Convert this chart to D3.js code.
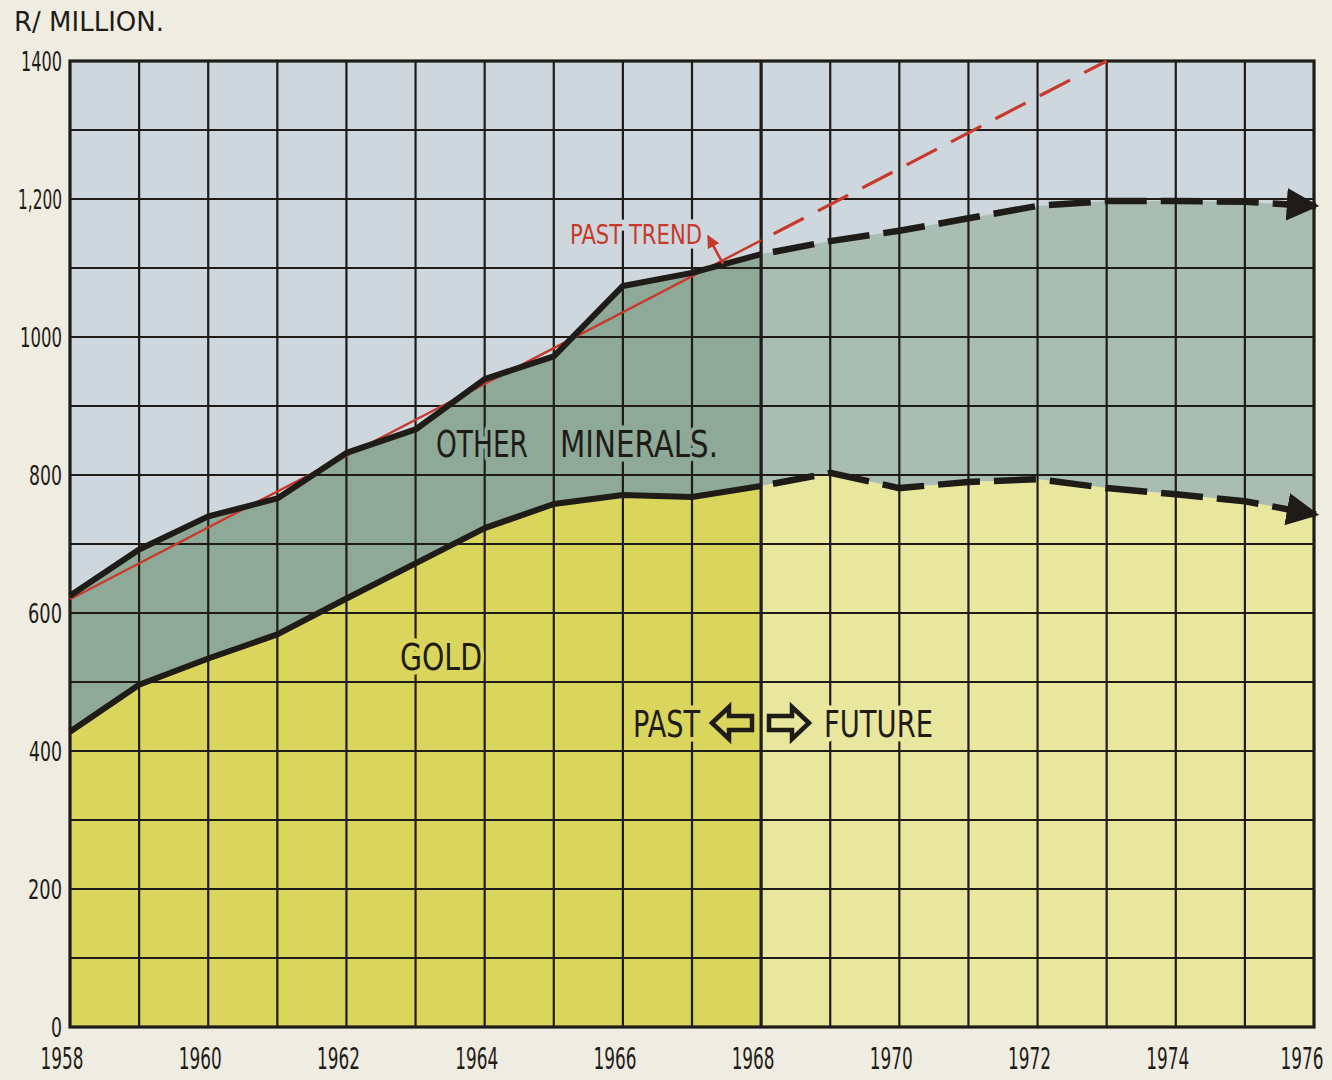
<!DOCTYPE html>
<html>
<head>
<meta charset="utf-8">
<script src="https://cdn.jsdelivr.net/npm/d3@7"></script>
<style>
  html, body { margin: 0; padding: 0; background: #efece2; }
  svg { display: block; }
  text { font-family: "DejaVu Sans", "Open Sans", sans-serif; }
</style>
</head>
<body>
<svg id="chart" width="1332" height="1080"></svg>
<script>
// ---- data (R million) ----
const pastYears   = [1958, 1959, 1960, 1961, 1962, 1963, 1964, 1965, 1966, 1967, 1968];
const pastTotal   = [625, 692, 740, 766, 832, 866, 939, 972, 1074, 1093, 1120];
const pastGold    = [428, 496, 534, 569, 621, 672, 723, 758, 771, 768, 784];
const futureYears = [1968, 1969, 1970, 1971, 1972, 1973, 1974, 1975, 1976];
const futureTotal = [1120, 1139, 1154, 1172, 1190, 1197, 1197, 1196, 1190];
const futureGold  = [784, 803, 781, 790, 794, 781, 772, 762, 743];
const trendYears  = [1958, 1968, 1973];
const trendValues = [620, 1140, 1400];
const yTicks      = [0, 200, 400, 600, 800, 1000, 1200, 1400];
const yTickLabels = ["0", "200", "400", "600", "800", "1000", "1,200", "1400"];
const xTickYears  = [1958, 1960, 1962, 1964, 1966, 1968, 1970, 1972, 1974, 1976];

// ---- layout ----
const svg = d3.select("#chart");
const L = 70, R = 1314, T = 61, B = 1027;
const x = d3.scaleLinear().domain([1958, 1976]).range([L, R]);
const y = d3.scaleLinear().domain([0, 1400]).range([B, T]);

const col = {
  sky: "#ced7dd",
  otherPast: "#8fa999",
  otherFuture: "#a9bdb5",
  goldPast: "#d9d55d",
  goldFuture: "#e9e69e",
  ink: "#1f1c18",
  red: "#c63a2c"
};

// background plot
svg.append("rect").attr("x", L).attr("y", T).attr("width", R - L).attr("height", B - T).attr("fill", col.sky);

const areaOther = d3.area().x(d => x(d[0])).y0(d => y(d[2])).y1(d => y(d[1]));
const areaGold = d3.area().x(d => x(d[0])).y0(y(0)).y1(d => y(d[2]));
const past = pastYears.map((yr, i) => [yr, pastTotal[i], pastGold[i]]);
const fut = futureYears.map((yr, i) => [yr, futureTotal[i], futureGold[i]]);

svg.append("path").datum(past).attr("d", areaOther).attr("fill", col.otherPast);
svg.append("path").datum(fut).attr("d", areaOther).attr("fill", col.otherFuture);
svg.append("path").datum(past).attr("d", areaGold).attr("fill", col.goldPast);
svg.append("path").datum(fut).attr("d", areaGold).attr("fill", col.goldFuture);

// grid
const grid = svg.append("g").attr("stroke", col.ink).attr("stroke-width", 2.2);
grid.selectAll("line.v").data(d3.range(1959, 1976)).join("line")
  .attr("x1", d => x(d)).attr("x2", d => x(d)).attr("y1", T).attr("y2", B)
  .attr("stroke-width", d => d === 1968 ? 3.2 : 2.2);
grid.selectAll("line.h").data(d3.range(100, 1400, 100)).join("line")
  .attr("y1", d => y(d)).attr("y2", d => y(d)).attr("x1", L).attr("x2", R);
svg.append("rect").attr("x", L).attr("y", T).attr("width", R - L).attr("height", B - T)
  .attr("fill", "none").attr("stroke", col.ink).attr("stroke-width", 3.2);

// past trend (red)
const line = d3.line().x(d => x(d[0])).y(d => y(d[1]));
const trend = trendYears.map((yr, i) => [yr, trendValues[i]]);
svg.append("path").datum(trend.slice(0, 2)).attr("d", line)
  .attr("fill", "none").attr("stroke", col.red).attr("stroke-width", 2.4);
svg.append("path").datum(trend.slice(1)).attr("d", line)
  .attr("fill", "none").attr("stroke", col.red).attr("stroke-width", 3.2)
  .attr("stroke-dasharray", "34,16").attr("stroke-dashoffset", -14);

// arrow heads
const defs = svg.append("defs");
defs.append("marker").attr("id", "arrowBlack").attr("viewBox", "0 0 10 10")
  .attr("refX", 9).attr("refY", 5).attr("markerWidth", 5).attr("markerHeight", 5)
  .attr("markerUnits", "strokeWidth").attr("orient", "auto")
  .append("path").attr("d", "M0,0 L10,5 L0,10 Z").attr("fill", col.ink);
defs.append("marker").attr("id", "arrowRed").attr("viewBox", "0 0 10 10")
  .attr("refX", 9).attr("refY", 5).attr("markerWidth", 5).attr("markerHeight", 5)
  .attr("markerUnits", "strokeWidth").attr("orient", "auto")
  .append("path").attr("d", "M0,0 L10,5 L0,10 Z").attr("fill", col.red);

// black lines
const pastTotalPts = pastYears.map((yr, i) => [yr, pastTotal[i]]);
const pastGoldPts = pastYears.map((yr, i) => [yr, pastGold[i]]);
const futTotalPts = futureYears.map((yr, i) => [yr, futureTotal[i]]);
const futGoldPts = futureYears.map((yr, i) => [yr, futureGold[i]]);
[pastTotalPts, pastGoldPts].forEach(pts => {
  svg.append("path").datum(pts).attr("d", line).attr("fill", "none")
    .attr("stroke", col.ink).attr("stroke-width", 6).attr("stroke-linejoin", "round");
});
[futTotalPts, futGoldPts].forEach(pts => {
  svg.append("path").datum(pts).attr("d", line).attr("fill", "none")
    .attr("stroke", col.ink).attr("stroke-width", 6.5)
    .attr("stroke-dasharray", "42,14").attr("stroke-dashoffset", -12);
  const n = pts.length;
  const p0 = [x(pts[n - 2][0]) + (x(pts[n - 1][0]) - x(pts[n - 2][0])) * 0.6,
              y(pts[n - 2][1]) + (y(pts[n - 1][1]) - y(pts[n - 2][1])) * 0.6];
  svg.append("line").attr("x1", p0[0]).attr("y1", p0[1])
    .attr("x2", x(pts[n - 1][0]) + 2).attr("y2", y(pts[n - 1][1]))
    .attr("stroke", col.ink).attr("stroke-width", 6.5).attr("marker-end", "url(#arrowBlack)");
});

// axis labels (condensed via textLength)
svg.append("text").attr("x", 14).attr("y", 31).attr("font-size", 27).attr("fill", col.ink)
  .attr("textLength", 150).attr("lengthAdjust", "spacingAndGlyphs")
  .text("R/ MILLION.");
const yWidths = { "0": 11, "200": 34, "400": 33, "600": 34, "800": 33, "1000": 42, "1,200": 44, "1400": 41 };
svg.selectAll("text.yt").data(yTicks).join("text").attr("class", "yt")
  .attr("x", 62).attr("y", d => y(d)).attr("dy", "0.36em")
  .attr("text-anchor", "end").attr("font-size", 27).attr("fill", col.ink)
  .attr("textLength", (d, i) => yWidths[yTickLabels[i]]).attr("lengthAdjust", "spacingAndGlyphs")
  .text((d, i) => yTickLabels[i]);

// x tick labels: condensed by a horizontal scale so the box stays true
svg.selectAll("text.xt").data(xTickYears).join("text").attr("class", "xt")
  .attr("x", 0).attr("y", 0)
  .attr("text-anchor", "middle").attr("font-size", 30).attr("fill", col.ink)
  .text(d => d)
  .each(function (d) {
    const w = this.getComputedTextLength();
    const cx = x(d) - (d === 1976 ? 12 : 8);
    d3.select(this).attr("transform", `translate(${cx},1069) scale(${43 / w},1)`);
  });

// annotations
function label(txt, xx, yy, size, w, fill, halo) {
  svg.append("text").attr("x", xx).attr("y", yy).attr("font-size", size)
    .attr("fill", fill).attr("stroke", halo).attr("stroke-width", 9)
    .attr("paint-order", "stroke").attr("stroke-linejoin", "round")
    .attr("textLength", w).attr("lengthAdjust", "spacingAndGlyphs").text(txt);
}
label("OTHER", 436, 457, 38, 92, col.ink, col.otherPast);
label("MINERALS.", 560, 457, 38, 158, col.ink, col.otherPast);
label("GOLD", 400, 670, 38, 82, col.ink, col.goldPast);
label("PAST", 633, 737, 38, 67, col.ink, col.goldPast);
label("FUTURE", 824, 737, 38, 109, col.ink, col.goldFuture);
label("PAST TREND", 570, 244, 27, 132, col.red, col.sky);

// past trend pointer
svg.append("line").attr("x1", x(1967.45)).attr("y1", y(1106)).attr("x2", 708).attr("y2", 236)
  .attr("stroke", col.red).attr("stroke-width", 2.6).attr("marker-end", "url(#arrowRed)");

// past/future hollow arrows
function hollowArrow(cx, cy, dir) {
  const s = dir;
  const pts = [[-20, 0], [-3, -16], [-3, -7], [20, -7], [20, 7], [-3, 7], [-3, 16]]
    .map(p => [cx + s * p[0], cy + p[1]]);
  svg.append("path").attr("d", d3.line()(pts) + "Z")
    .attr("fill", "none").attr("stroke", col.ink).attr("stroke-width", 4.5).attr("stroke-linejoin", "miter");
}
hollowArrow(732, 723, 1);
hollowArrow(789, 723, -1);
</script>
</body>
</html>
